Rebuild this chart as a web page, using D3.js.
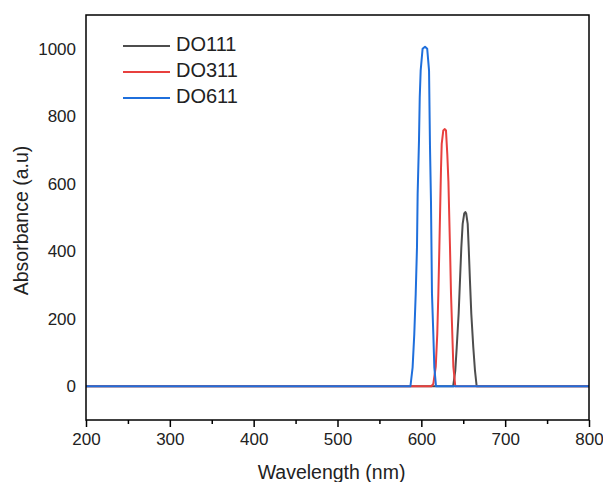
<!DOCTYPE html>
<html>
<head>
<meta charset="utf-8">
<script src="https://cdn.jsdelivr.net/npm/d3@7"></script>
<style>
  html, body { margin: 0; padding: 0; background: #fff; }
  svg text { font-family: "Liberation Sans", Arial, sans-serif; fill: #222; }
</style>
</head>
<body>
<svg id="chart" width="603" height="482"></svg>
<script>
// ---- Data ----
const seriesNames = ["DO111", "DO311", "DO611"];
const seriesColors = ["#4d4d4d", "#e8403e", "#1f6fdc"];

const do111Wavelength = [200, 638, 640.5, 642.2, 644.5, 646.1, 647.7, 649.3, 651.2, 652.5, 653.5, 655.3, 656.5, 658, 659.6, 662, 664, 666, 800];
const do111Absorbance = [0, 0, 46, 115, 215, 313, 411, 481, 512, 516, 512, 481, 411, 313, 215, 115, 46, 0, 0];

const do311Wavelength = [200, 612, 614.3, 617.2, 619, 620.3, 621.5, 623, 623.5, 624.3, 626.2, 628, 629.4, 631, 632.3, 634.2, 635.4, 638.2, 640.5, 800];
const do311Absorbance = [0, 0, 7, 58, 155, 274, 411, 590, 648, 718, 758, 762, 758, 686, 607, 411, 274, 58, 0, 0];

const do611Wavelength = [200, 587, 589.6, 591.6, 593.3, 594.8, 595.6, 597.2, 598.1, 599.2, 601.5, 604.4, 607, 609.2, 610.3, 611.5, 612.7, 614.3, 615.5, 617.5, 800];
const do611Absorbance = [0, 0, 56, 155, 274, 411, 570, 727, 856, 935, 1000, 1006, 1000, 935, 714, 549, 274, 155, 56, 0, 0];

const xTicks = [200, 300, 400, 500, 600, 700, 800];
const xMinorTicks = [250, 350, 450, 550, 650, 750];
const yTicks = [0, 200, 400, 600, 800, 1000];
const xDomain = [200, 800];
const yDomain = [-100, 1100];
const xTitle = "Wavelength (nm)";
const yTitle = "Absorbance (a.u)";

const series = [
  { name: seriesNames[0], color: seriesColors[0], x: do111Wavelength, y: do111Absorbance },
  { name: seriesNames[1], color: seriesColors[1], x: do311Wavelength, y: do311Absorbance },
  { name: seriesNames[2], color: seriesColors[2], x: do611Wavelength, y: do611Absorbance }
];

// ---- Layout ----
const svg = d3.select("#chart");
const plot = { left: 86, top: 15, right: 589, bottom: 420 };

const x = d3.scaleLinear().domain(xDomain).range([plot.left, plot.right]);
const y = d3.scaleLinear().domain(yDomain).range([plot.bottom, plot.top]);

// series lines
const line = d3.line().x(d => x(d[0])).y(d => y(d[1]));
const clip = svg.append("clipPath").attr("id", "clip").append("rect")
  .attr("x", plot.left).attr("y", plot.top)
  .attr("width", plot.right - plot.left).attr("height", plot.bottom - plot.top);

const g = svg.append("g").attr("clip-path", "url(#clip)");
series.forEach(s => {
  g.append("path")
    .datum(s.x.map((v, i) => [v, s.y[i]]))
    .attr("fill", "none")
    .attr("stroke", s.color)
    .attr("stroke-width", 2)
    .attr("stroke-linejoin", "round")
    .attr("d", line);
});

// frame
svg.append("rect")
  .attr("x", plot.left).attr("y", plot.top)
  .attr("width", plot.right - plot.left).attr("height", plot.bottom - plot.top)
  .attr("fill", "none").attr("stroke", "#000").attr("stroke-width", 1.5);

// x axis
const xAxis = svg.append("g").attr("transform", `translate(0,${plot.bottom})`)
  .call(d3.axisBottom(x).tickValues(xTicks).tickSize(7).tickPadding(6).tickFormat(d3.format("d")));
xAxis.select(".domain").remove();
xAxis.selectAll("line").attr("stroke", "#000").attr("stroke-width", 1.5);
xAxis.selectAll("text").attr("font-size", "17px").style("fill", "#222");

const xMinor = svg.append("g").attr("transform", `translate(0,${plot.bottom})`)
  .call(d3.axisBottom(x).tickValues(xMinorTicks).tickSize(4).tickFormat(""));
xMinor.select(".domain").remove();
xMinor.selectAll("line").attr("stroke", "#000").attr("stroke-width", 1.5);

// y axis (labels only)
const yAxis = svg.append("g").attr("transform", `translate(${plot.left},0)`)
  .call(d3.axisLeft(y).tickValues(yTicks).tickSize(0).tickPadding(10).tickFormat(d3.format("d")));
yAxis.select(".domain").remove();
yAxis.selectAll("text").attr("font-size", "17px").style("fill", "#222");

// axis titles
svg.append("text")
  .attr("x", (plot.left + plot.right) / 2 - 6).attr("y", 474)
  .attr("text-anchor", "middle").attr("dominant-baseline", "middle")
  .attr("font-size", "19.5px").text(xTitle);

svg.append("text")
  .attr("transform", `translate(23,${(plot.top + plot.bottom) / 2 + 3}) rotate(-90)`)
  .attr("text-anchor", "middle").attr("dominant-baseline", "middle")
  .attr("font-size", "19.5px").text(yTitle);

// legend
const legend = svg.append("g");
series.forEach((s, i) => {
  const ly = 46 + i * 26;
  legend.append("line")
    .attr("x1", 123).attr("x2", 170).attr("y1", ly).attr("y2", ly)
    .attr("stroke", s.color).attr("stroke-width", 2);
  legend.append("text")
    .attr("x", 176).attr("y", ly).attr("dominant-baseline", "middle")
    .attr("font-size", "20px").text(s.name);
});
</script>
</body>
</html>
